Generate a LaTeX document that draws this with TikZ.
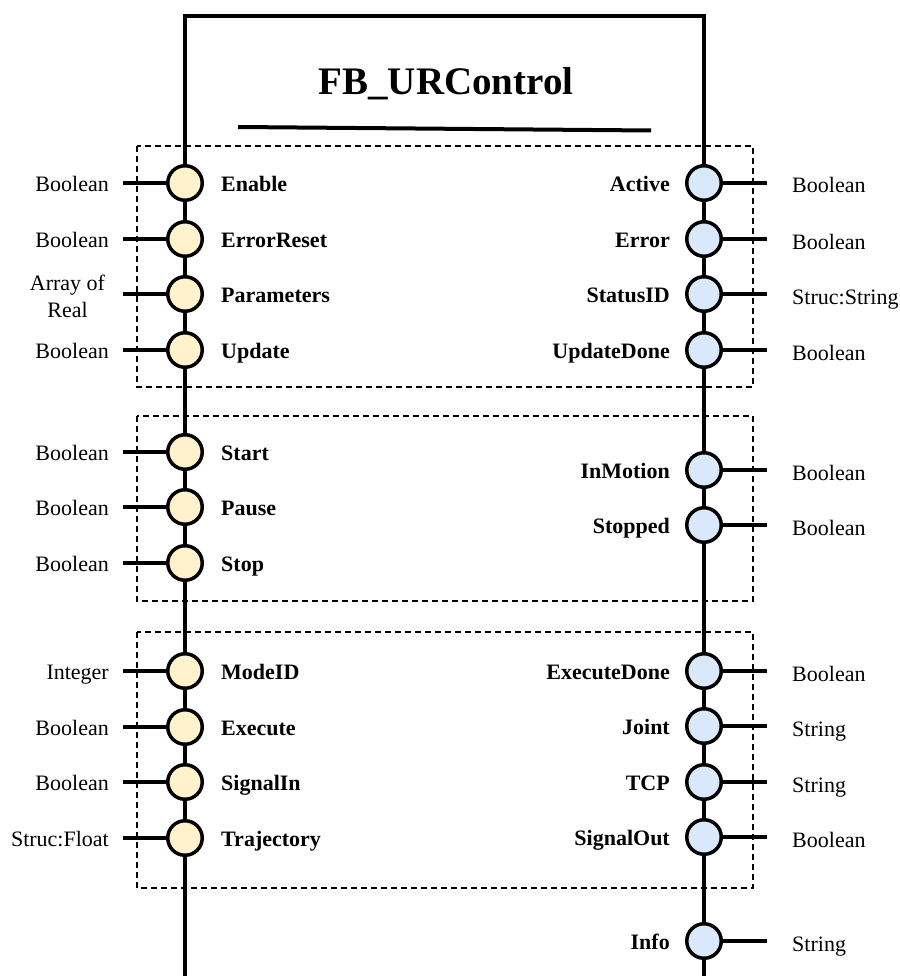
\documentclass[tikz,border=0pt]{standalone}
\usepackage{fontspec}
\setmainfont{Liberation Serif}
\definecolor{inFill}{HTML}{FFF2CC}
\definecolor{outFill}{HTML}{DAE8FC}
\begin{document}
\begin{tikzpicture}[x=1pt,y=-1pt,
  port/.style={circle, draw, line width=3.5pt, minimum size=34.5pt, inner sep=0pt},
  inport/.style={port, fill=inFill},
  outport/.style={port, fill=outFill},
  wire/.style={line width=3.6pt},
  grp/.style={draw, dash pattern=on 6pt off 4pt, line width=1.4pt},
  typ/.style={font=\fontsize{22}{27}\selectfont, inner sep=0pt},
  pname/.style={font=\fontsize{22}{26}\selectfont\bfseries, inner sep=0pt},
  ttl/.style={font=\fontsize{39}{44}\selectfont\bfseries, inner sep=0pt}]
\useasboundingbox (0,0) rectangle (899,976);
% groups
\draw[grp] (137,146) rectangle (753,387);
\draw[grp] (137,416) rectangle (753,601);
\draw[grp] (137,632) rectangle (753,888);
% block outline
\coordinate (BL) at (185,980);
\coordinate (TL) at (185,16);
\coordinate (TR) at (704,16);
\coordinate (BR) at (704,980);
\draw[wire] (BL) -- (TL) -- (TR) -- (BR);
% title
\node[ttl, anchor=base] (title) at (446,95) {FB\_URControl};
\coordinate (ulA) at (238,127);
\coordinate (ulB) at (651,130.5);
\draw[line width=4pt] (ulA) -- (ulB);
% inputs
\foreach \i/\y/\n/\t in {1/183/Enable/Boolean, 2/239/ErrorReset/Boolean, 3/294/Parameters/{}, 4/350/Update/Boolean,
  5/452/Start/Boolean, 6/507/Pause/Boolean, 7/563/Stop/Boolean,
  8/671/ModeID/Integer, 9/727/Execute/Boolean, 10/782/SignalIn/Boolean, 11/838/Trajectory/Struc:Float} {
  \coordinate (Ls\i) at (123,\y);
  \node[inport] (L\i) at (185,\y) {};
  \draw[wire] (Ls\i) -- (L\i.west);
  \node[pname, anchor=base west] (Ln\i) at (221,\y+8.5) {\n};
  \node[typ, anchor=base east] (Lt\i) at (109,\y+8.5) {\t};
}
\node[typ, align=center, anchor=center] (Lt3b) at (67.5,296) {Array of\\Real};
% outputs
\foreach \i/\y/\n/\t in {1/183/Active/Boolean, 2/239/Error/Boolean, 3/294/StatusID/Struc:String, 4/350/UpdateDone/Boolean,
  5/470/InMotion/Boolean, 6/525/Stopped/Boolean,
  7/671/ExecuteDone/Boolean, 8/726/Joint/String, 9/782/TCP/String, 10/837/SignalOut/Boolean, 11/941/Info/String} {
  \coordinate (Rs\i) at (767,\y);
  \node[outport] (R\i) at (704,\y) {};
  \draw[wire] (R\i.east) -- (Rs\i);
  \node[pname, anchor=base east] (Rn\i) at (670,\y+8.5) {\n};
  \node[typ, anchor=base west] (Rt\i) at (792,\y+10) {\t};
}
\end{tikzpicture}
\end{document}
